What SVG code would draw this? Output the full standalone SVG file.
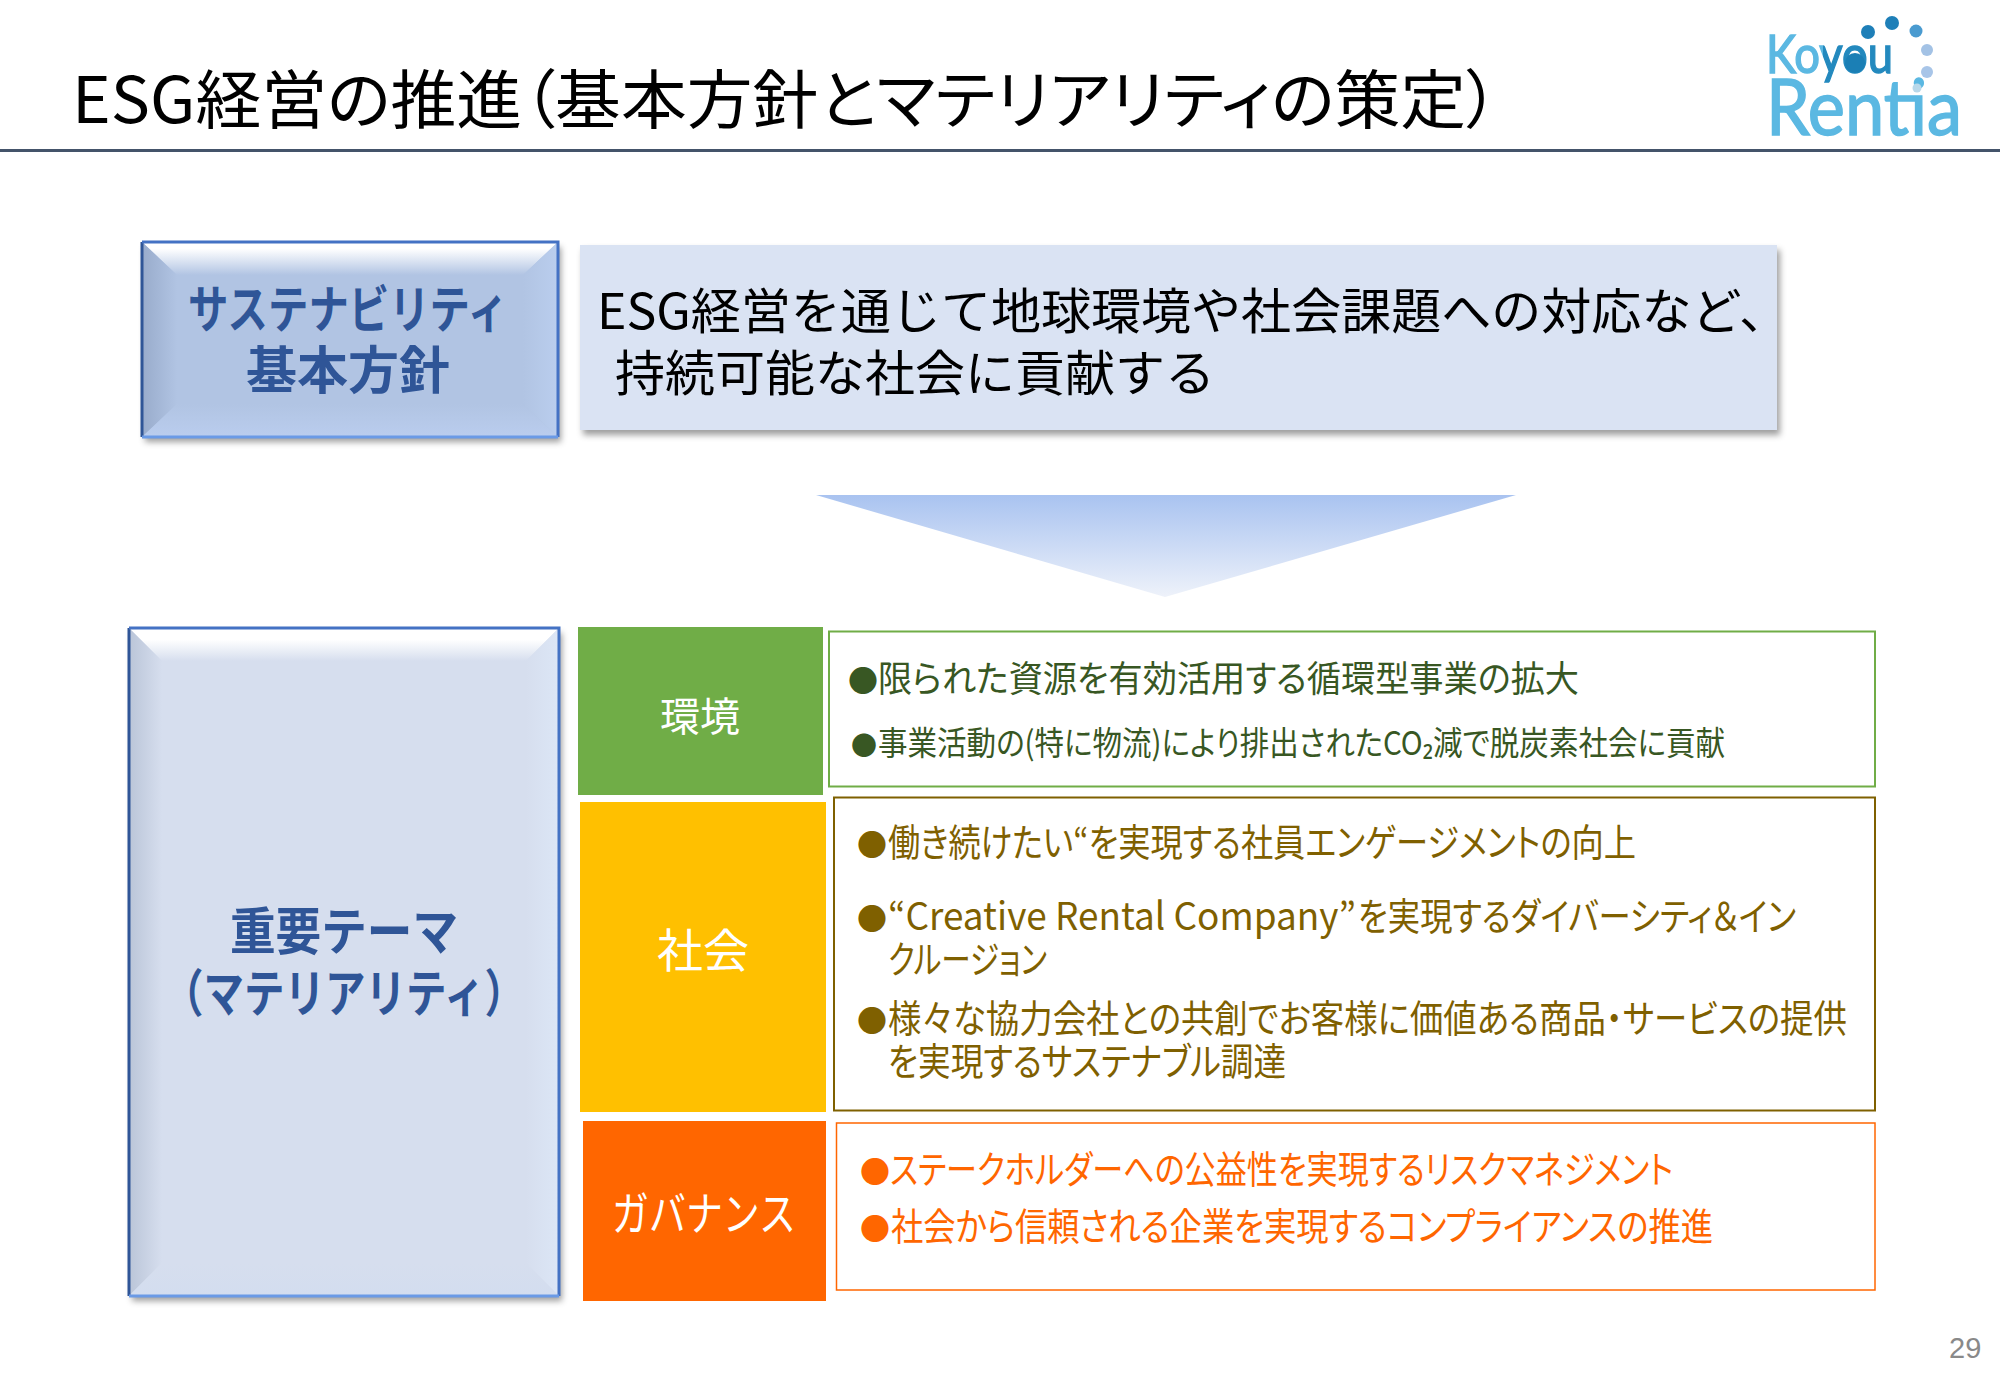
<svg xmlns="http://www.w3.org/2000/svg" width="2000" height="1385" viewBox="0 0 2000 1385">
<style>
text{font-family:"Noto Sans CJK JP","Noto Sans",sans-serif}
.b{font-weight:700;fill:#2F5597;font-size:51px;text-anchor:middle}
.m{fill:#000;font-size:49px}
.w{fill:#fff;text-anchor:middle}
.p{font-feature-settings:"palt"}
.g{fill:#385723;font-size:36px;font-feature-settings:"palt"}
.y{fill:#7F6000;font-size:38px;font-feature-settings:"palt"}
.o{fill:#FF6600;font-size:38px;font-feature-settings:"palt"}
.d{font-size:30px}
.logo{font-family:"Lato","Noto Sans",sans-serif;font-weight:400;stroke-width:1.500}
</style>
<defs>
<filter id="sh" x="-5%" y="-5%" width="110%" height="112%"><feDropShadow dx="3" dy="5" stdDeviation="3" flood-color="#000" flood-opacity=".38"/></filter>
<linearGradient id="ky" gradientUnits="userSpaceOnUse" x1="1766" y1="0" x2="1893" y2="0"><stop offset=".45" stop-color="#5BB8E2"/><stop offset=".45" stop-color="#2389BE"/></linearGradient>
<linearGradient id="ar" x1="0" y1="0" x2="0" y2="1"><stop offset="0" stop-color="#A9C3F0"/><stop offset="1" stop-color="#EEF2FA"/></linearGradient>
<linearGradient id="t1" x1="0" y1="0" x2="0" y2="1"><stop offset="0" stop-color="#fff"/><stop offset=".2" stop-color="#fff"/><stop offset="1" stop-color="#B1C4E3"/></linearGradient>
<linearGradient id="l1" x1="0" y1="0" x2="1" y2="0"><stop offset="0" stop-color="#98ABCB"/><stop offset="1" stop-color="#B1C4E3"/></linearGradient>
<linearGradient id="r1" x1="0" y1="0" x2="1" y2="0"><stop offset="0" stop-color="#B1C4E3"/><stop offset="1" stop-color="#BACEEE"/></linearGradient>
<linearGradient id="b1" x1="0" y1="0" x2="0" y2="1"><stop offset="0" stop-color="#B1C4E3"/><stop offset="1" stop-color="#BACDEE"/></linearGradient>
<linearGradient id="t3" x1="0" y1="0" x2="0" y2="1"><stop offset="0" stop-color="#fff"/><stop offset=".35" stop-color="#fff"/><stop offset="1" stop-color="#D6DEEE"/></linearGradient>
<linearGradient id="l3" x1="0" y1="0" x2="1" y2="0"><stop offset="0" stop-color="#BAC5D8"/><stop offset="1" stop-color="#D6DEEE"/></linearGradient>
<linearGradient id="r3" x1="0" y1="0" x2="1" y2="0"><stop offset="0" stop-color="#D6DEEE"/><stop offset="1" stop-color="#DCE6F6"/></linearGradient>
<linearGradient id="b3" x1="0" y1="0" x2="0" y2="1"><stop offset="0" stop-color="#D6DEEE"/><stop offset="1" stop-color="#D3DDEF"/></linearGradient>
</defs>
<rect width="2000" height="1385" fill="#fff"/>

<g id="title">
<text class="p" x="72" y="123" font-size="64" fill="#000" textLength="1427" lengthAdjust="spacingAndGlyphs">ESG経営の推進（基本方針とマテリアリティの策定）</text>
<rect x="0" y="149" width="2000" height="3" fill="#44546A"/>
</g>

<g id="logo">
<text class="logo" x="1766" y="73" font-size="52" fill="url(#ky)" stroke="url(#ky)" textLength="127" lengthAdjust="spacingAndGlyphs">Koyou</text>
<circle cx="1855" cy="63" r="10" fill="#1B7FB5"/>
<text class="logo" x="1766" y="135" font-size="78" fill="#5BB8E2" stroke="#5BB8E2" textLength="196" lengthAdjust="spacingAndGlyphs">Rentia</text>
<circle cx="1868" cy="32" r="7" fill="#1E7FB8"/>
<circle cx="1892" cy="23" r="7" fill="#1E7FB8"/>
<circle cx="1916" cy="31" r="6.500" fill="#4A9BD0"/>
<circle cx="1927" cy="50" r="6" fill="#A3C2E5"/>
<circle cx="1927" cy="72" r="6" fill="#A8C5E8"/>
<circle cx="1917" cy="88" r="4.500" fill="#B8D8EA"/>
</g>

<g id="policy-label">
<g filter="url(#sh)"><rect x="142" y="242" width="416" height="195" fill="#B1C4E3"/></g>
<polygon points="142,242 558,242 523,275 177,275" fill="url(#t1)"/>
<polygon points="142,242 177,275 177,404 142,437" fill="url(#l1)"/>
<polygon points="558,242 523,275 523,404 558,437" fill="url(#r1)"/>
<polygon points="142,437 177,404 523,404 558,437" fill="url(#b1)"/>
<path d="M142,437V242" stroke="#2F5597" stroke-width="3" fill="none"/>
<path d="M142,242H558V437" stroke="#4472C4" stroke-width="3" fill="none"/>
<path d="M142,437H558" stroke="#6A9AE6" stroke-width="3" fill="none"/>
<text class="b" x="348" y="328" textLength="320" lengthAdjust="spacingAndGlyphs">サステナビリティ</text>
<text class="b" x="348" y="389">基本方針</text>
</g>

<g id="policy-text">
<rect x="580" y="245" width="1197" height="185" fill="#DAE3F3" filter="url(#sh)"/>
<text class="m" x="597" y="329" textLength="1192" lengthAdjust="spacingAndGlyphs">ESG経営を通じて地球環境や社会課題への対応など、</text>
<text class="m" x="615" y="391" textLength="600" lengthAdjust="spacingAndGlyphs">持続可能な社会に貢献する</text>
</g>

<g id="connectors">
<polygon points="816,495 1516,495 1165,597" fill="url(#ar)"/>
</g>

<g id="materiality-label">
<g filter="url(#sh)"><rect x="129" y="628" width="430" height="668" fill="#D6DEEE"/></g>
<polygon points="129,628 559,628 526,661 162,661" fill="url(#t3)"/>
<polygon points="129,628 162,661 162,1263 129,1296" fill="url(#l3)"/>
<polygon points="559,628 526,661 526,1263 559,1296" fill="url(#r3)"/>
<polygon points="129,1296 162,1263 526,1263 559,1296" fill="url(#b3)"/>
<path d="M129,1296V628" stroke="#2F5597" stroke-width="3" fill="none"/>
<path d="M129,628H559V1296" stroke="#4472C4" stroke-width="3" fill="none"/>
<path d="M129,1296H559" stroke="#6A9AE6" stroke-width="3" fill="none"/>
<text class="b" x="344" y="950" textLength="228" lengthAdjust="spacingAndGlyphs">重要テーマ</text>
<text class="b" x="344" y="1012" textLength="362" lengthAdjust="spacingAndGlyphs">（マテリアリティ）</text>
</g>

<g id="env">
<rect x="578" y="627" width="245" height="168" fill="#70AD47"/>
<text class="w" x="700" y="731" font-size="40">環境</text>
<rect x="829" y="631.500" width="1046" height="155" fill="#fff" stroke="#70AD47" stroke-width="2"/>
<text class="g d" x="848" y="692">●</text>
<text class="g" x="878" y="692" textLength="701" lengthAdjust="spacingAndGlyphs">限られた資源を有効活用する循環型事業の拡大</text>
<text class="g" x="851" y="755" style="font-size:26px">●</text>
<text class="g" x="878" y="755" style="font-size:33px" textLength="847" lengthAdjust="spacingAndGlyphs">事業活動の(特に物流)により排出されたCO₂減で脱炭素社会に貢献</text>
</g>

<g id="social">
<rect x="580" y="802" width="246" height="310" fill="#FFC000"/>
<text class="w" x="703" y="967" font-size="46">社会</text>
<rect x="834" y="797.500" width="1041" height="313" fill="#fff" stroke="#7F6000" stroke-width="2"/>
<text class="y d" x="857" y="856">●</text>
<text class="y" x="888" y="856" textLength="748" lengthAdjust="spacingAndGlyphs">働き続けたい“を実現する社員エンゲージメントの向上</text>
<text class="y d" x="857" y="930">●</text>
<text class="y" x="888" y="930" textLength="468" lengthAdjust="spacingAndGlyphs">“Creative Rental Company”</text>
<text class="y" x="1358" y="930" textLength="438" lengthAdjust="spacingAndGlyphs">を実現するダイバーシティ＆イン</text>
<text class="y" x="888" y="973" textLength="159" lengthAdjust="spacingAndGlyphs">クルージョン</text>
<text class="y d" x="857" y="1032">●</text>
<text class="y" x="888" y="1032" textLength="959" lengthAdjust="spacingAndGlyphs">様々な協力会社との共創でお客様に価値ある商品・サービスの提供</text>
<text class="y" x="888" y="1075" textLength="398" lengthAdjust="spacingAndGlyphs">を実現するサステナブル調達</text>
</g>

<g id="governance">
<rect x="583" y="1121" width="243" height="180" fill="#FF6600"/>
<text class="w" x="704" y="1230" font-size="46" textLength="184" lengthAdjust="spacingAndGlyphs">ガバナンス</text>
<rect x="836.500" y="1123" width="1038.500" height="167" fill="#fff" stroke="#FF6600" stroke-width="1.500"/>
<text class="o d" x="860" y="1183">●</text>
<text class="o" x="890" y="1183" textLength="783" lengthAdjust="spacingAndGlyphs">ステークホルダーへの公益性を実現するリスクマネジメント</text>
<text class="o d" x="860" y="1240">●</text>
<text class="o" x="891" y="1240" textLength="822" lengthAdjust="spacingAndGlyphs">社会から信頼される企業を実現するコンプライアンスの推進</text>
</g>

<text x="1949" y="1358" font-size="29" fill="#898989" style="font-family:'Liberation Sans',sans-serif">29</text>
</svg>
